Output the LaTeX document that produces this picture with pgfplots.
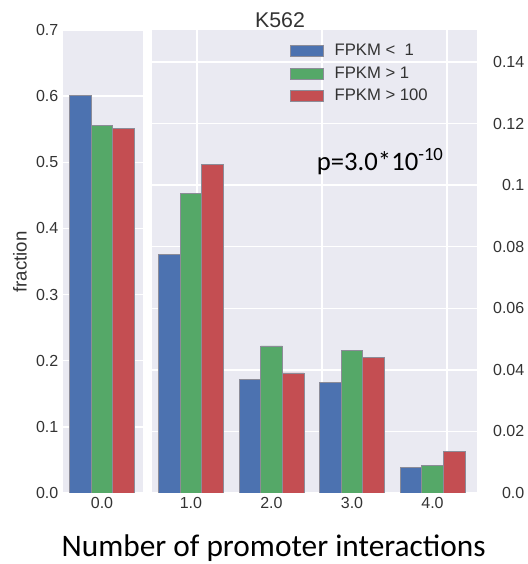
\documentclass[border=0pt]{standalone}
\usepackage{pgfplots}
\pgfplotsset{compat=1.18}
\usepackage{fontspec}
\setmainfont{Liberation Sans}
\newfontfamily\calibri{Carlito}
\definecolor{sbblue}{HTML}{4C72B0}
\definecolor{sbgreen}{HTML}{55A868}
\definecolor{sbred}{HTML}{C44E52}
\definecolor{sbbg}{HTML}{EAEAF2}
\definecolor{sbedge}{HTML}{8C8C98}
\definecolor{sbtext}{HTML}{333333}
\pgfplotsset{
  panel/.style={
    scale only axis,
    axis background/.style={fill=sbbg},
    axis line style={draw=none},
    major tick length=0pt,
    minor tick num=0,
    ymajorgrids=true,
    xmajorgrids=false,
    grid style={white, line width=1pt},
    ymin=0,
    ybar=0pt,
    bar width=16.2pt,
    tick label style={font=\fontsize{12}{14}\selectfont, text=sbtext},
    /pgf/number format/assume math mode=true,
    every axis plot/.append style={draw=sbedge, line width=0.5pt},
  }
}
\begin{document}
\begin{tikzpicture}
\useasboundingbox (0,0) rectangle (396pt,423pt);
% left panel
\begin{axis}[panel,
  at={(47.25pt,53.25pt)}, anchor=south west,
  width=60pt, height=347.25pt,
  xmin=-0.4875, xmax=0.5125,
  ymax=0.7,
  xtick={0}, xticklabels={0.0},
  ytick={0,0.1,0.2,0.3,0.4,0.5,0.6,0.7},
  yticklabels={0.0,0.1,0.2,0.3,0.4,0.5,0.6,0.7},
]
\addplot[fill=sbblue] coordinates {(0,0.601)};
\addplot[fill=sbgreen] coordinates {(0,0.556)};
\addplot[fill=sbred] coordinates {(0,0.551)};
\end{axis}
% right panel
\begin{axis}[panel,
  at={(114pt,53.25pt)}, anchor=south west,
  width=243.75pt, height=347.25pt,
  xmin=0.516, xmax=4.553,
  ymax=0.1504,
  xtick={1,2,3,4}, xticklabels={1.0,2.0,3.0,4.0},
  ytick={0,0.02,0.04,0.06,0.08,0.1,0.12,0.14},
  yticklabels={0.0,0.02,0.04,0.06,0.08,0.1,0.12,0.14},
  yticklabel pos=right,
  yticklabel style={anchor=east, xshift=39pt},
  extra x ticks={1.075,2.627,4.18},
  extra x tick labels={},
  extra x tick style={grid=major},
  legend cell align=left,
  legend style={at={(0.4246,0.975)}, anchor=north west, draw=none, fill=none,
    font=\fontsize{12.5}{15}\selectfont, text=sbtext,
    row sep=2.6pt, inner sep=0pt,
    /tikz/every odd column/.style={column sep=6pt}},
  legend image code/.code={\fill[#1] (0pt,-4.125pt) rectangle (24.75pt,4.125pt);},
]
\addplot[fill=sbblue] coordinates {(1,0.0776) (2,0.0370) (3,0.0360) (4,0.0084)};
\addplot[fill=sbgreen] coordinates {(1,0.0974) (2,0.0478) (3,0.0462) (4,0.0090)};
\addplot[fill=sbred] coordinates {(1,0.1068) (2,0.0390) (3,0.0440) (4,0.0134)};
\legend{FPKM <\ \ 1, FPKM > 1, FPKM > 100}
\end{axis}
\node[font=\fontsize{16}{18}\selectfont, text=sbtext] at (210pt,408pt) {K562};
\node[font=\fontsize{14}{16}\selectfont, text=sbtext, rotate=90] at (15pt,226.5pt) {fraction};
\node[font=\calibri\fontsize{20}{24}\selectfont, anchor=base west, inner sep=0pt] at (237.5pt,294.75pt) {p=3.0*10\textsuperscript{-10}};
\node[font=\calibri\fontsize{23.5}{28}\selectfont, anchor=base west, inner sep=0pt] at (46pt,5.5pt) {Number of promoter interactions};
\end{tikzpicture}
\end{document}
